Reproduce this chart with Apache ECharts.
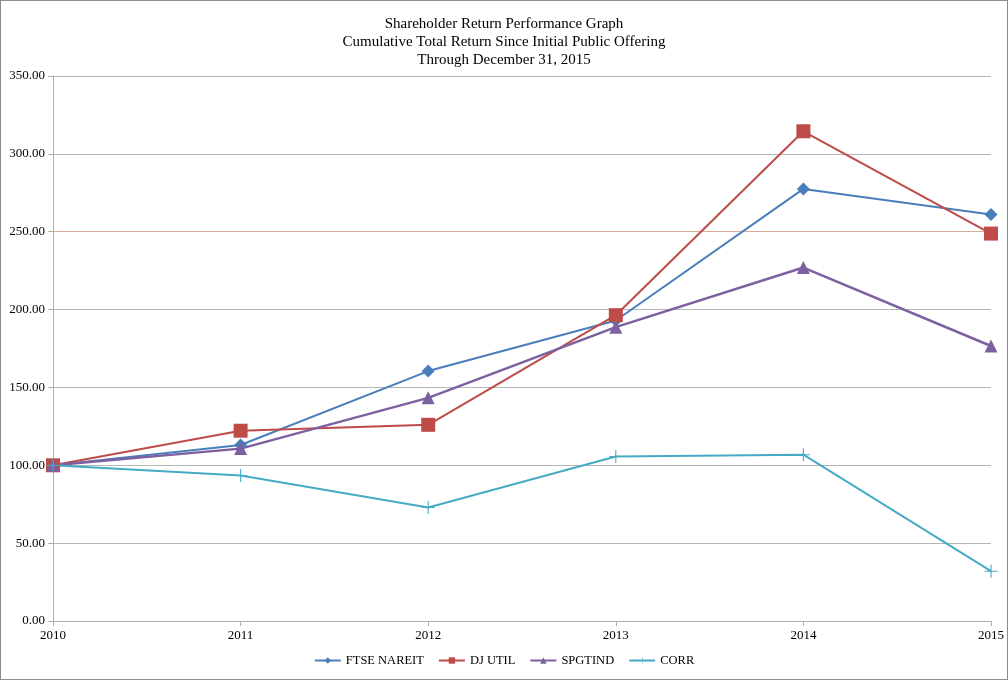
<!DOCTYPE html>
<html>
<head>
<meta charset="utf-8">
<script src="https://cdn.jsdelivr.net/npm/echarts@6/dist/echarts.min.js"></script>
<style>
html,body{margin:0;padding:0;background:#fff;}
#c{width:1008px;height:680px;box-sizing:border-box;border:1px solid #8c8c8c;}
</style>
</head>
<body>
<div id="c"></div>
<script>
var years = ['2010','2011','2012','2013','2014','2015'];
var ftseNareit = [100, 113, 160.5, 193, 277.5, 261];
var djUtil = [100, 122.2, 126, 196.4, 314.5, 248.8];
var spgtind = [100, 110.7, 143.3, 188.7, 227, 176.6];
var corr = [100, 93.4, 72.9, 105.6, 106.8, 32];
var titleLines = ['Shareholder Return Performance Graph','Cumulative Total Return Since Initial Public Offering','Through December 31, 2015'];

var font = '"Liberation Serif","Times New Roman",serif';
var chart = echarts.init(document.getElementById('c'));
var plus = 'path://M5.5,0H6.5V5.5H12V6.5H6.5V12H5.5V6.5H0V5.5H5.5Z';
var gridColors = ['#b5b5b5','#b5b5b5','#b5b5b5','#b5b5b5','#b5b5b5','#d9ad98','#b5b5b5','#b5b5b5'];
chart.setOption({
  animation:false,
  textStyle:{fontFamily:font},
  title:{text:titleLines.join('\n'), left:'center', top:9,
    textStyle:{fontFamily:font, fontSize:15, fontWeight:'normal', color:'#000', lineHeight:18}},
  grid:{left:52, right:14, top:75, bottom:58, containLabel:false},
  legend:{bottom:7, left:'center', itemWidth:26, itemHeight:8, itemGap:14,
    textStyle:{fontFamily:font, fontSize:12.5, color:'#000'},
    data:['FTSE NAREIT','DJ UTIL','SPGTIND','CORR']},
  xAxis:{type:'category', data:years, boundaryGap:false,
    axisLine:{lineStyle:{color:'#b0b0b0', width:1}},
    axisTick:{show:true, length:5, lineStyle:{color:'#b0b0b0'}},
    axisLabel:{color:'#000', fontFamily:font, fontSize:13, margin:8}},
  yAxis:{type:'value', min:0, max:350, interval:50,
    axisLine:{show:true, lineStyle:{color:'#b0b0b0'}},
    axisTick:{show:true, length:5, lineStyle:{color:'#b0b0b0'}},
    axisLabel:{color:'#000', fontFamily:font, fontSize:13, margin:8,
      formatter:function(v){return v.toFixed(2);}},
    splitLine:{lineStyle:{color:gridColors, width:1}}},
  series:[
    {name:'FTSE NAREIT', type:'line', data:ftseNareit, symbol:'diamond', symbolSize:13,
      lineStyle:{color:'#4a7ebb', width:2}, itemStyle:{color:'#4a7ebb'}},
    {name:'DJ UTIL', type:'line', data:djUtil, symbol:'rect', symbolSize:14,
      lineStyle:{color:'#be4b48', width:2}, itemStyle:{color:'#be4b48'}},
    {name:'SPGTIND', type:'line', data:spgtind, symbol:'triangle', symbolSize:13,
      lineStyle:{color:'#7d60a0', width:2.5}, itemStyle:{color:'#7d60a0'}},
    {name:'CORR', type:'line', data:corr, symbol:plus, symbolSize:13,
      lineStyle:{color:'#46aac5', width:2}, itemStyle:{color:'#46aac5'}}
  ]
});
</script>
</body>
</html>
